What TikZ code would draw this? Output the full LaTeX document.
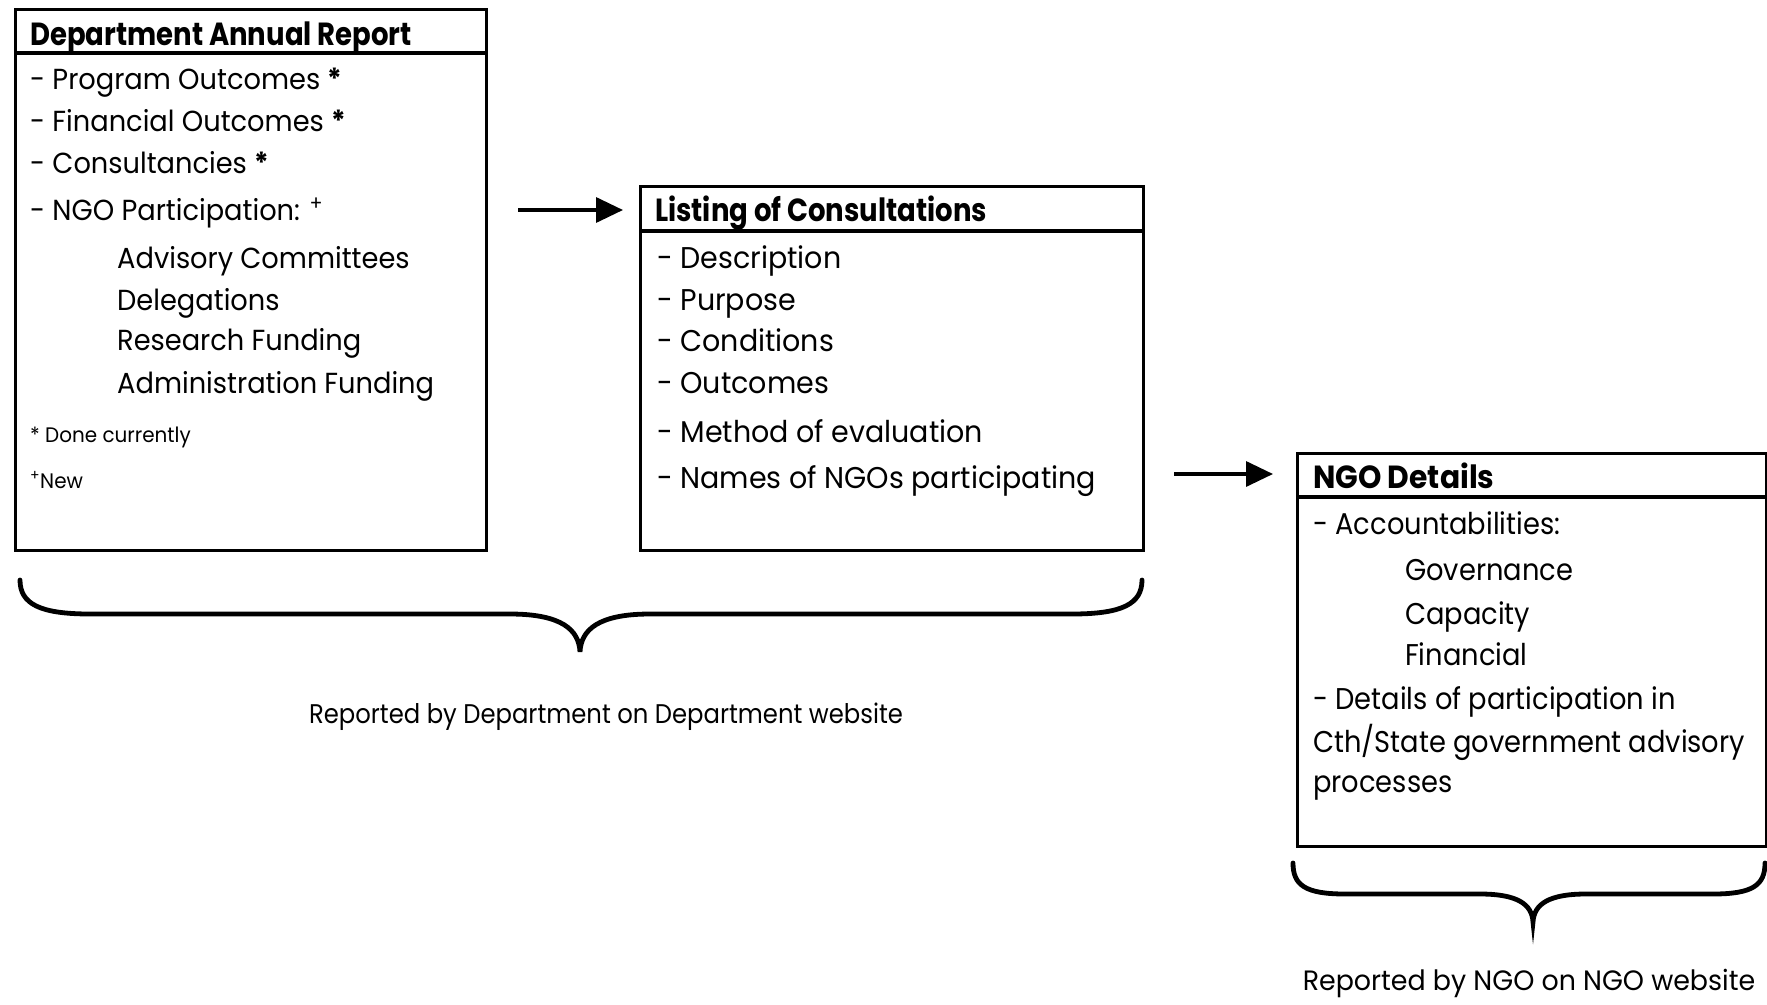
\documentclass[tikz,border=0pt]{standalone}
\usepackage{fontspec}
\setmainfont{Poppins}
\newfontfamily\bodyfont[FakeStretch=0.94]{Poppins}
\newfontfamily\condfont[FakeStretch=0.95]{Poppins}
\newfontfamily\condfontc[FakeStretch=0.91]{Poppins}
\newfontfamily\smallfont[FakeStretch=0.95]{Poppins}
\newfontfamily\lblfont[FakeStretch=0.9]{Poppins}
\newfontfamily\lblfontb[FakeStretch=0.96]{Poppins}
\newfontfamily\titlefont[FakeStretch=0.86]{Poppins}
\newfontfamily\titlefontb[FakeStretch=0.93]{Poppins}
\usetikzlibrary{arrows.meta}
\begin{document}
\begin{tikzpicture}[x=1pt,y=-1pt,
  box/.style={draw, line width=3.4pt, inner sep=0pt, anchor=north west},
  rule/.style={line width=3.4pt},
  arr/.style={line width=3.4pt, -{Triangle[length=27pt,width=25pt]}},
  brace/.style={line width=4.8pt, line cap=round},
  ttl/.style={anchor=base west, inner sep=0pt, font=\titlefont\bfseries\fontsize{32}{32}\selectfont},
  ttlb/.style={anchor=base west, inner sep=0pt, font=\titlefontb\bfseries\fontsize{32}{32}\selectfont},
  txa/.style={anchor=base west, inner sep=0pt, font=\bodyfont\fontsize{29}{29}\selectfont},
  txb/.style={anchor=base west, inner sep=0pt, font=\condfont\fontsize{30}{30}\selectfont},
  txc/.style={anchor=base west, inner sep=0pt, font=\condfontc\fontsize{30}{30}\selectfont},
  small/.style={anchor=base west, inner sep=0pt, font=\smallfont\fontsize{21}{21}\selectfont},
  lbl/.style={inner sep=0pt, font=\lblfont\fontsize{27}{27}\selectfont},
  lblb/.style={inner sep=0pt, font=\lblfontb\fontsize{28}{28}\selectfont}]
\useasboundingbox (0,0) rectangle (1767,1004);
% box 1
\node[box, minimum width=471pt, minimum height=541pt] (b1) at (14,8) {};
\draw[rule] (14,53) -- (485,53);
\node[ttl] (t1) at (30,45) {Department Annual Report};
\node[txa] (p1) at (30,89) {- Program Outcomes \textbf{*}};
\node[txa] (p2) at (30,131) {- Financial Outcomes \textbf{*}};
\node[txa] (p3) at (30,173) {- Consultancies \textbf{*}};
\node[txa] (p4) at (30,220) {- NGO Participation: \textsuperscript{+}};
\node[txa] (p5) at (117,268) {Advisory Committees};
\node[txa] (p6) at (117,310) {Delegations};
\node[txa] (p7) at (117,350) {Research Funding};
\node[txa] (p8) at (117,393) {Administration Funding};
\node[small] (f1) at (30,442) {* Done currently};
\node[small] (f2) at (30,488) {\textsuperscript{+}New};
% box 2
\node[box, minimum width=503pt, minimum height=364pt] (b2) at (639,185) {};
\draw[rule] (639,231) -- (1142,231);
\node[ttl] (t2) at (655,221) {Listing of Consultations};
\node[txb] (q1) at (657,268) {- Description};
\node[txb] (q2) at (657,310) {- Purpose};
\node[txb] (q3) at (657,351) {- Conditions};
\node[txb] (q4) at (657,393) {- Outcomes};
\node[txb] (q5) at (657,442) {- Method of evaluation};
\node[txb] (q6) at (657,488) {- Names of NGOs participating};
% box 3
\node[box, minimum width=469pt, minimum height=393pt] (b3) at (1296,452) {};
\draw[rule] (1296,497) -- (1765,497);
\node[ttlb] (t3) at (1313,488) {NGO Details};
\node[txc] (r1) at (1313,534) {- Accountabilities:};
\node[txc] (r2) at (1405,580) {Governance};
\node[txc] (r3) at (1405,624) {Capacity};
\node[txc] (r4) at (1405,665) {Financial};
\node[txc] (r5) at (1313,709) {- Details of participation in};
\node[txc] (r6) at (1313,752) {Cth/State government advisory};
\node[txc] (r7) at (1313,792) {processes};
% arrows
\coordinate (a1) at (518,210);
\draw[arr, shorten >=16pt] (a1) -- (a1 -| b2.west);
\coordinate (a2) at (1174,474);
\draw[arr, shorten >=23pt] (a2) -- (a2 -| b3.west);
% braces
\draw[brace] (20,580) .. controls (20,604) and (40,614) .. (90,614)
  -- (510,614) .. controls (562,614) and (579,630) .. (580,652)
  .. controls (581,630) and (598,614) .. (650,614)
  -- (1072,614) .. controls (1122,614) and (1142,604) .. (1142,580);
\draw[brace] (1293,863) .. controls (1293,885) and (1305,894) .. (1345,894)
  -- (1480,894) .. controls (1517,894) and (1532,904) .. (1533,922)
  .. controls (1534,904) and (1549,894) .. (1586,894)
  -- (1713,894) .. controls (1753,894) and (1765,885) .. (1765,863);
\node[lbl] (l1) at (606,717) {Reported by Department on Department website};
\node[lblb] (l2) at (1529,983) {Reported by NGO on NGO website};
\end{tikzpicture}
\end{document}
